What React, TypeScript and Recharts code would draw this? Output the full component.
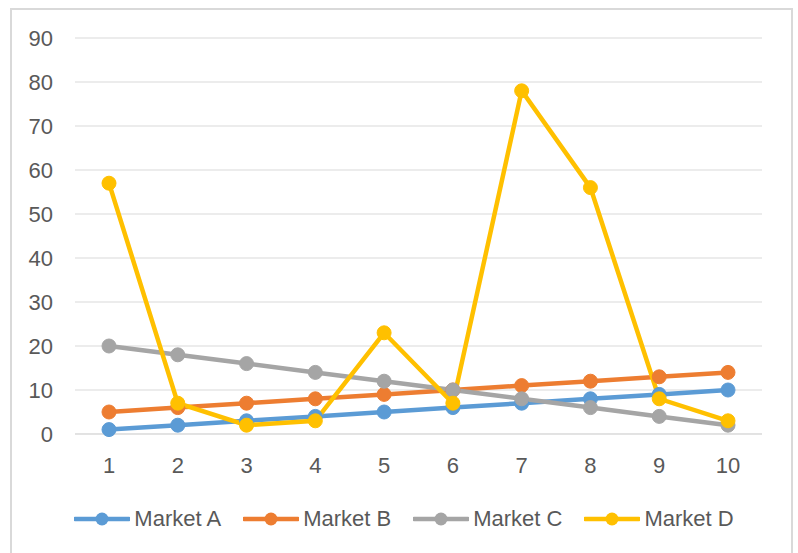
import React from 'react';
import { LineChart, Line, XAxis, YAxis, CartesianGrid } from 'recharts';

const categories = ['1', '2', '3', '4', '5', '6', '7', '8', '9', '10'];
const marketA = [1, 2, 3, 4, 5, 6, 7, 8, 9, 10];
const marketB = [5, 6, 7, 8, 9, 10, 11, 12, 13, 14];
const marketC = [20, 18, 16, 14, 12, 10, 8, 6, 4, 2];
const marketD = [57, 7, 2, 3, 23, 7, 78, 56, 8, 3];
const yTicks = [0, 10, 20, 30, 40, 50, 60, 70, 80, 90];

const seriesNames = ['Market A', 'Market B', 'Market C', 'Market D'];
const seriesKeys = ['A', 'B', 'C', 'D'];
const seriesColors = ['#5B9BD5', '#ED7D31', '#A5A5A5', '#FFC000'];

const data = categories.map((c, i) => ({
  cat: c,
  A: marketA[i],
  B: marketB[i],
  C: marketC[i],
  D: marketD[i],
}));

const FONT = '"Liberation Sans", Arial, sans-serif';
const TEXT = '#595959';
const FS = 22;

export default function App() {
  return (
    <div style={{ position: 'absolute', left: 0, top: 0, width: 798, height: 553, overflow: 'hidden', background: '#fff' }}>
      <div
        style={{
          position: 'absolute',
          left: 10,
          top: 8,
          width: 779,
          height: 560,
          border: '2px solid #D9D9D9',
        }}
      />
      <div style={{ position: 'absolute', left: 0, top: 0 }}>
        <LineChart
          width={798}
          height={553}
          data={data}
          margin={{ top: 38, right: 36, left: 0, bottom: 89 }}
        >
          <CartesianGrid vertical={false} stroke="#D9D9D9" strokeWidth={1} />
          <XAxis
            dataKey="cat"
            height={30}
            padding={{ left: 34, right: 34 }}
            axisLine={{ stroke: '#D9D9D9' }}
            tickLine={false}
            tickMargin={17}
            tick={{ fill: TEXT, fontSize: FS, fontFamily: FONT }}
          />
          <YAxis
            width={75}
            domain={[0, 90]}
            ticks={yTicks}
            axisLine={false}
            tickLine={false}
            tickMargin={16}
            tick={{ fill: TEXT, fontSize: FS, fontFamily: FONT }}
          />
          {seriesKeys.map((k, i) => (
            <Line
              key={k}
              dataKey={k}
              name={seriesNames[i]}
              type="linear"
              stroke={seriesColors[i]}
              strokeWidth={4.5}
              dot={{ r: 7, fill: seriesColors[i], stroke: seriesColors[i], strokeWidth: 1 }}
              activeDot={false}
              isAnimationActive={false}
            />
          ))}
        </LineChart>
      </div>
      <div
        style={{
          position: 'absolute',
          left: 0,
          top: 507,
          width: 808,
          height: 24,
          display: 'flex',
          justifyContent: 'center',
          alignItems: 'center',
          gap: 22,
          fontFamily: FONT,
          fontSize: FS,
          color: TEXT,
        }}
      >
        {seriesNames.map((n, i) => (
          <div key={n} style={{ display: 'flex', alignItems: 'center', gap: 4 }}>
            <svg width={56} height={16}>
              <line x1={1} y1={8} x2={55} y2={8} stroke={seriesColors[i]} strokeWidth={4.5} strokeLinecap="round" />
              <circle cx={28} cy={8} r={6.5} fill={seriesColors[i]} />
            </svg>
            <span style={{ lineHeight: '24px', whiteSpace: 'nowrap' }}>{n}</span>
          </div>
        ))}
      </div>
    </div>
  );
}
